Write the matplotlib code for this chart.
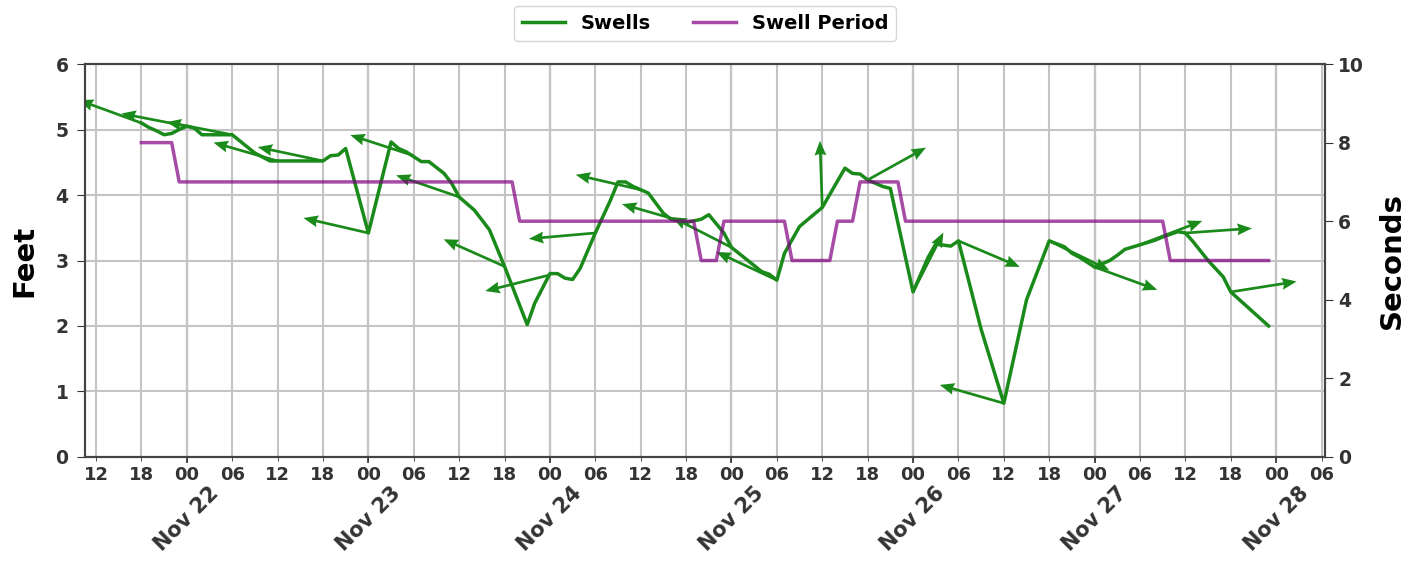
import numpy as np
import pandas as pd
import matplotlib
matplotlib.use("Agg")
import matplotlib.pyplot as plt
import matplotlib.dates as mdates

plt.rcParams['font.family'] = ['DejaVu Sans']
plt.rcParams['font.weight'] = 'bold'
plt.rcParams['axes.labelweight'] = 'bold'

start = pd.Timestamp("2018-11-21 00:00")

# swell height (ft), hours after Nov 21 00:00
swell_hours = [18, 19, 20, 21, 22, 23, 24, 25, 26, 30, 33, 35, 42, 43, 44, 45, 48,
               51, 52, 53, 55, 56, 58, 59, 60, 62, 64, 66, 69, 70, 72, 73, 74, 75, 76,
               78, 80, 81, 82, 83, 84, 85, 87, 88, 90, 92, 93, 95, 96, 100, 101, 102,
               103, 105, 108, 111, 112, 113, 114, 116, 117, 120, 122, 123, 125, 126,
               129, 132, 135, 138, 140, 141, 142, 144, 146, 147, 148, 150, 152, 153,
               155, 156, 157, 159, 161, 162, 167]
swell_ft = [5.10, 5.03, 4.98, 4.92, 4.94, 5.00, 5.05, 5.02, 4.92, 4.92, 4.64, 4.52, 4.52,
            4.60, 4.61, 4.71, 3.42, 4.81, 4.71, 4.66, 4.51, 4.51, 4.33, 4.18, 3.97, 3.77,
            3.47, 2.91, 2.02, 2.35, 2.80, 2.80, 2.73, 2.71, 2.88, 3.42, 3.92, 4.20, 4.20,
            4.13, 4.08, 4.03, 3.72, 3.63, 3.58, 3.63, 3.70, 3.42, 3.20, 2.83, 2.79, 2.70,
            3.11, 3.52, 3.81, 4.41, 4.33, 4.32, 4.23, 4.13, 4.10, 2.52, 3.05, 3.25, 3.22,
            3.30, 1.95, 0.82, 2.40, 3.30, 3.21, 3.11, 3.05, 2.90, 3.00, 3.08, 3.17, 3.24,
            3.31, 3.36, 3.44, 3.42, 3.29, 3.00, 2.75, 2.52, 2.00]

# swell period (s)
period_hours = [18, 22, 23, 67, 68, 91, 92, 94, 95, 103, 104, 109, 110, 112, 113, 118,
                119, 153, 154, 167]
period_s = [8, 8, 7, 7, 6, 6, 5, 5, 6, 6, 5, 5, 6, 6, 7, 7, 6, 6, 5, 5]

# swell direction every 6 hours (heading in degrees, clockwise from north)
arrow_hours = [18, 24, 30, 36, 42, 48, 54, 60, 66, 72, 78, 84, 90, 96, 102, 108, 114,
               120, 126, 132, 138, 144, 150, 156, 162]
arrow_ft = [5.10, 5.05, 4.92, 4.52, 4.52, 3.42, 4.60, 3.97, 2.91, 2.78, 3.42, 4.08, 3.58,
            3.20, 2.70, 3.81, 4.23, 2.52, 3.30, 0.82, 3.30, 2.90, 3.24, 3.42, 2.52]
arrow_heading = [290, 281, 281, 286, 282, 283, 288, 289, 294, 256, 265, 283, 286, 297,
                 295, 358, 61, 27, 113, 286, 116, 110, 69, 86, 81]

swell_t = start + pd.to_timedelta(swell_hours, unit="h")
period_t = start + pd.to_timedelta(period_hours, unit="h")
arrow_t = start + pd.to_timedelta(arrow_hours, unit="h")

fig, ax = plt.subplots(figsize=(14.27, 5.63), dpi=100)
fig.subplots_adjust(left=0.0596, right=0.9285, top=0.8863, bottom=0.1883)
ax2 = ax.twinx()

green = "#1a8a1a"
purple = (0.5, 0.0, 0.5, 0.7)

l1, = ax.plot(swell_t, swell_ft, color=green, lw=2.5, label="Swells", zorder=3)
l2, = ax2.plot(period_t, period_s, color=purple, lw=2.5, label="Swell Period")

hd = np.radians(arrow_heading)
ax.quiver(mdates.date2num(arrow_t), arrow_ft, np.sin(hd), np.cos(hd), color=green,
          angles="uv", scale_units="inches", scale=1.5, units="dots", width=2.7,
          headwidth=4.4, headlength=5.4, headaxislength=4.9, zorder=3)

ax.set_ylim(0, 6)
ax2.set_ylim(0, 10)
ax.margins(x=0.05)

ax.xaxis.set_major_locator(mdates.DayLocator())
ax.xaxis.set_major_formatter(mdates.DateFormatter("%b %d"))
ax.xaxis.set_minor_locator(mdates.HourLocator(byhour=[0, 6, 12, 18]))
ax.xaxis.set_minor_formatter(mdates.DateFormatter("%H"))
ax.xaxis.remove_overlapping_locs = False

tc = "#333333"
ax.tick_params(axis="x", which="major", pad=15, labelsize=15, labelrotation=45,
               colors=tc, length=4, width=1.2)
ax.tick_params(axis="x", which="minor", labelsize=13, colors=tc, length=3)
ax.tick_params(axis="y", labelsize=13.5, colors=tc, length=6, pad=6)
ax2.tick_params(axis="y", labelsize=13.5, colors=tc, length=6)

ax.grid(which="major", axis="x", color="#555555", lw=1.5)
ax.grid(which="minor", axis="x", color="#c4c4c4", lw=1.5)
ax.grid(which="major", axis="y", color="#c4c4c4", lw=1.5)
ax.set_axisbelow(True)

for a in (ax, ax2):
    for s in a.spines.values():
        s.set_color("#444444")
        s.set_linewidth(1.5)

ax.set_ylabel("Feet", fontsize=21, labelpad=12)
ax2.set_ylabel("Seconds", fontsize=21, labelpad=10)

ax.legend([l1, l2], ["Swells", "Swell Period"], loc="upper center",
          bbox_to_anchor=(0.5, 1.172), ncol=2, fontsize=14, columnspacing=2.2,
          handlelength=2.2)

fig.savefig("out.png", dpi=100)
